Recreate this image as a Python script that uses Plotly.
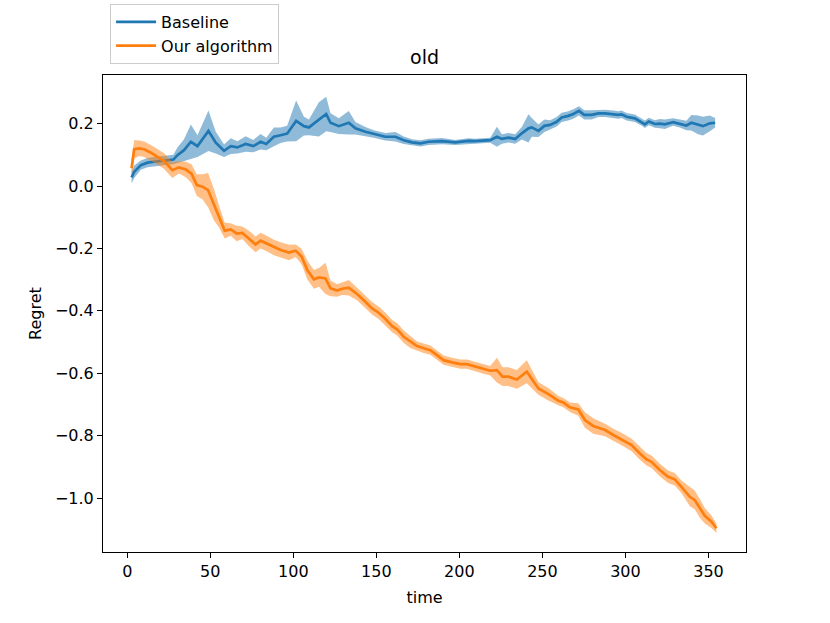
import plotly.graph_objects as go

# ---- data ----
blue_t = [2.6, 4.2, 8.2, 12.2, 16.2, 20.2, 24.2, 27.8, 30.2, 34.2, 38.3, 42.3, 48.9, 53.3, 58.3, 62.3,
          66.3, 71.3, 75.9, 80.3, 83.7, 88.3, 92.3, 96.3, 101.7, 106.4, 109.4, 115.4, 119.8, 122.4,
          127.4, 133.4, 137.4, 143.4, 148.4, 155.4, 161.5, 166.5, 171.5, 176.5, 181.5, 189.5, 197.5,
          205.5, 209.5, 218.6, 222.6, 225.6, 229.6, 233.6, 237.6, 241.6, 243.6, 247.6, 251.2, 254.6,
          258.6, 261.6, 265.6, 268.6, 272.0, 275.2, 279.6, 283.7, 287.7, 292.7, 295.7, 297.7, 300.7,
          305.7, 309.7, 311.7, 314.1, 317.7, 320.7, 323.7, 328.7, 332.8, 336.7, 339.7, 343.7, 346.7,
          350.8, 354.0]
blue_mean = [0.028, 0.046, 0.067, 0.075, 0.078, 0.081, 0.083, 0.085, 0.099, 0.115, 0.142, 0.128,
             0.177, 0.139, 0.113, 0.128, 0.124, 0.135, 0.128, 0.142, 0.135, 0.158, 0.163, 0.168,
             0.209, 0.192, 0.188, 0.214, 0.231, 0.203, 0.192, 0.203, 0.185, 0.174, 0.167, 0.158,
             0.158, 0.147, 0.140, 0.137, 0.142, 0.144, 0.140, 0.145, 0.144, 0.147, 0.158, 0.151,
             0.155, 0.151, 0.169, 0.185, 0.188, 0.177, 0.193, 0.196, 0.206, 0.220, 0.225, 0.231,
             0.241, 0.228, 0.228, 0.233, 0.233, 0.230, 0.228, 0.230, 0.222, 0.217, 0.206, 0.198,
             0.207, 0.199, 0.200, 0.198, 0.205, 0.200, 0.194, 0.203, 0.196, 0.192, 0.201, 0.203]
blue_err = [0.02, 0.02, 0.015, 0.015, 0.015, 0.015, 0.015, 0.015, 0.025, 0.035, 0.055, 0.035,
            0.065, 0.035, 0.02, 0.025, 0.02, 0.025, 0.02, 0.025, 0.02, 0.03, 0.025, 0.025,
            0.065, 0.03, 0.025, 0.055, 0.055, 0.03, 0.025, 0.038, 0.02, 0.015, 0.012, 0.012,
            0.015, 0.012, 0.01, 0.01, 0.01, 0.01, 0.008, 0.008, 0.008, 0.008, 0.032, 0.015,
            0.015, 0.015, 0.02, 0.045, 0.03, 0.02, 0.02, 0.015, 0.015, 0.015, 0.015, 0.015,
            0.015, 0.015, 0.015, 0.012, 0.012, 0.012, 0.012, 0.012, 0.012, 0.012, 0.012, 0.012,
            0.012, 0.012, 0.015, 0.015, 0.012, 0.012, 0.015, 0.025, 0.03, 0.03, 0.025, 0.015]

orange_t = [2.6, 4.2, 7.2, 10.2, 14.2, 18.2, 22.2, 27.2, 31.2, 35.3, 38.7, 41.9, 45.3, 48.7, 52.3,
            55.3, 58.7, 62.3, 65.9, 69.3, 73.3, 77.3, 80.3, 84.3, 88.3, 92.4, 97.4, 101.4, 105.0,
            108.4, 112.4, 115.4, 119.4, 122.4, 126.4, 129.4, 133.4, 138.4, 143.4, 147.4, 151.4,
            155.5, 159.5, 162.5, 166.5, 170.5, 174.5, 178.5, 182.5, 185.5, 190.5, 195.5, 200.5,
            204.5, 209.6, 214.5, 218.6, 222.6, 226.0, 229.5, 234.6, 240.6, 247.6, 253.6, 259.6,
            262.6, 266.6, 271.6, 275.6, 280.6, 287.7, 292.7, 298.7, 303.7, 308.7, 312.7, 315.7,
            320.7, 325.7, 329.7, 333.7, 338.8, 341.7, 344.8, 347.8, 351.8, 354.8]
orange_mean = [0.057, 0.118, 0.121, 0.118, 0.107, 0.094, 0.080, 0.051, 0.060, 0.053, 0.040, 0.003,
               -0.002, -0.013, -0.061, -0.098, -0.143, -0.139, -0.152, -0.150, -0.168, -0.187,
               -0.175, -0.185, -0.197, -0.205, -0.213, -0.207, -0.226, -0.269, -0.299, -0.293,
               -0.296, -0.328, -0.335, -0.329, -0.326, -0.346, -0.371, -0.392, -0.406, -0.426,
               -0.449, -0.459, -0.483, -0.499, -0.513, -0.520, -0.526, -0.538, -0.558, -0.565,
               -0.571, -0.571, -0.579, -0.587, -0.592, -0.590, -0.611, -0.611, -0.620, -0.595,
               -0.649, -0.667, -0.688, -0.694, -0.709, -0.716, -0.750, -0.769, -0.782, -0.798,
               -0.814, -0.830, -0.857, -0.876, -0.884, -0.910, -0.932, -0.940, -0.964, -0.996,
               -1.006, -1.033, -1.057, -1.076, -1.097]
orange_err = [0.03, 0.03, 0.025, 0.025, 0.025, 0.025, 0.025, 0.025, 0.02, 0.025, 0.03, 0.035,
              0.04, 0.055, 0.05, 0.035, 0.025, 0.02, 0.025, 0.02, 0.025, 0.025, 0.025, 0.025,
              0.025, 0.025, 0.025, 0.02, 0.025, 0.03, 0.03, 0.03, 0.05, 0.025, 0.02, 0.02,
              0.025, 0.02, 0.02, 0.02, 0.02, 0.02, 0.02, 0.02, 0.02, 0.02, 0.015, 0.015, 0.015,
              0.015, 0.015, 0.015, 0.015, 0.015, 0.015, 0.015, 0.015, 0.04, 0.03, 0.03, 0.03,
              0.037, 0.02, 0.02, 0.015, 0.015, 0.015, 0.02, 0.025, 0.025, 0.02, 0.02, 0.02,
              0.02, 0.02, 0.02, 0.02, 0.02, 0.02, 0.02, 0.02, 0.03, 0.03, 0.03, 0.025, 0.02, 0.015]

series_names = ["Baseline", "Our algorithm"]
colors = ["#1f77b4", "#ff7f0e"]
band_colors = ["rgba(31,119,180,0.5)", "rgba(255,127,14,0.5)"]

fig = go.Figure()

for name, t, m, e, c, bc in [
    (series_names[0], blue_t, blue_mean, blue_err, colors[0], band_colors[0]),
    (series_names[1], orange_t, orange_mean, orange_err, colors[1], band_colors[1]),
]:
    upper = [a + b for a, b in zip(m, e)]
    lower = [a - b for a, b in zip(m, e)]
    fig.add_trace(go.Scatter(
        x=t + t[::-1], y=upper + lower[::-1], fill="toself", fillcolor=bc,
        line=dict(width=0), mode="lines", showlegend=False, hoverinfo="skip"))
    fig.add_trace(go.Scatter(
        x=t, y=m, mode="lines", name=name, line=dict(color=c, width=2.7)))

axis_common = dict(
    showline=True, linecolor="black", linewidth=1, mirror=True,
    ticks="outside", ticklen=5, tickwidth=1, tickcolor="black",
    showgrid=False, zeroline=False,
    tickfont=dict(family="DejaVu Sans", size=16, color="black"),
)

fig.update_layout(
    width=830, height=623,
    margin=dict(l=103, r=84, t=75, b=71, autoexpand=False),
    paper_bgcolor="white", plot_bgcolor="white",
    font=dict(family="DejaVu Sans", color="black", size=16),
    title=dict(text="old", x=0.5, xanchor="center", xref="paper",
               y=1 - 57 / 623, yanchor="middle", yref="container",
               font=dict(size=19, family="DejaVu Sans", color="black")),
    xaxis=dict(range=[-14.6, 372.6], tick0=0, dtick=50,
               title=dict(text="time", standoff=11, font=dict(size=16)), **axis_common),
    yaxis=dict(range=[-1.173, 0.356], tick0=0, dtick=0.2, tickformat=".1f",
               title=dict(text="Regret", standoff=9, font=dict(size=16)), **axis_common),
    legend=dict(x=0.011, y=1.149, xanchor="left", yanchor="top",
                bgcolor="white", bordercolor="#cccccc", borderwidth=1,
                itemwidth=40,
                font=dict(size=16, family="DejaVu Sans"), tracegroupgap=0),
    showlegend=True,
)

fig.write_html("out.html", config={"displayModeBar": False},
               post_script="document.body.style.margin='0';document.body.style.padding='0';")
